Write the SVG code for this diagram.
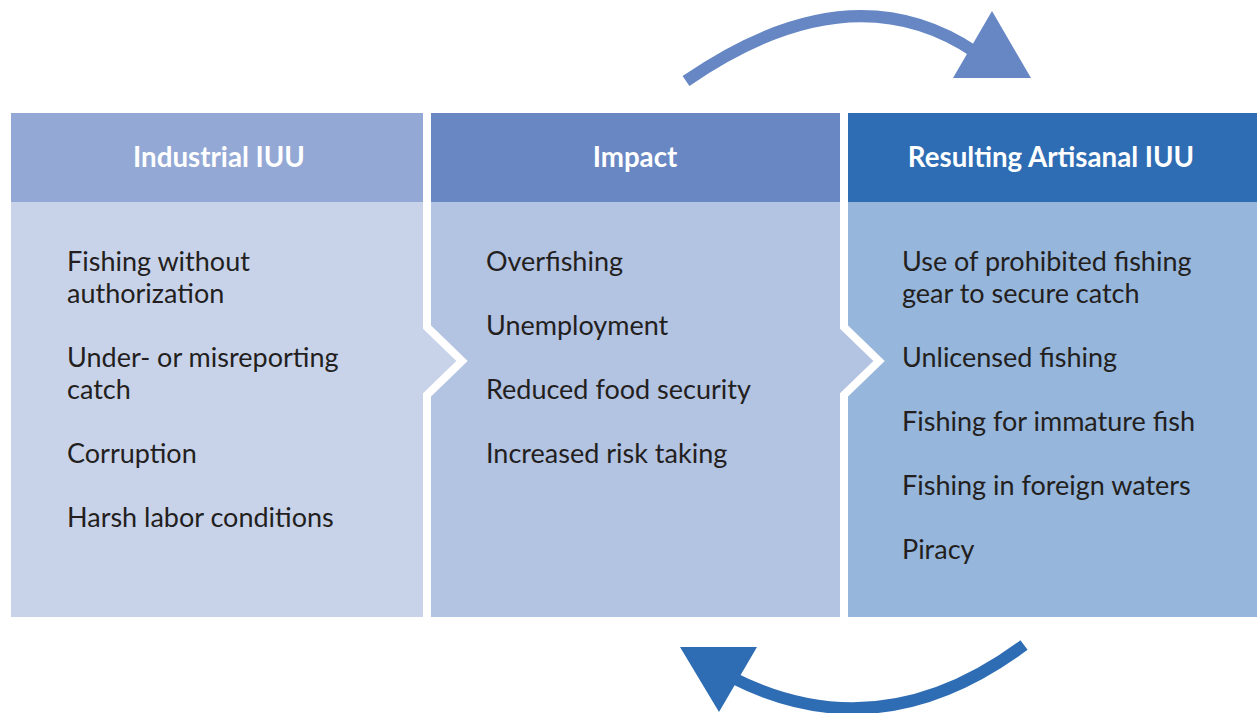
<svg xmlns="http://www.w3.org/2000/svg" width="1257" height="713" viewBox="0 0 1257 713">
<style>
.hd{font-family:Lato,"Liberation Sans",sans-serif;font-weight:700;font-size:27.7px;fill:#fff;text-anchor:middle}
.bd{font-family:Lato,"Liberation Sans",sans-serif;font-size:27px;fill:#231F20}
.sep{fill:none;stroke:#fff;stroke-width:8;stroke-linejoin:miter;stroke-miterlimit:10}
</style>
<rect width="1257" height="713" fill="#fff"/>
<g id="panel-industrial">
<rect x="11" y="113" width="420" height="89" fill="#93A8D4"/>
<polygon points="11,202 427,202 427,327 462,361 427,395 427,617 11,617" fill="#C8D3EA"/>
<text class="hd" x="219" y="167">Industrial IUU</text>
<text class="bd" x="67" y="271">Fishing without</text>
<text class="bd" x="67" y="303">authorization</text>
<text class="bd" x="67" y="367">Under- or misreporting</text>
<text class="bd" x="67" y="399">catch</text>
<text class="bd" x="67" y="463">Corruption</text>
<text class="bd" x="67" y="527">Harsh labor conditions</text>
</g>
<g id="panel-impact">
<rect x="431" y="113" width="409" height="89" fill="#6887C3"/>
<polygon points="427,202 844,202 844,327 879,361 844,395 844,617 427,617 427,395 462,361 427,327" fill="#B3C3E2"/>
<text class="hd" x="635" y="167">Impact</text>
<text class="bd" x="486" y="271">Overfishing</text>
<text class="bd" x="486" y="335">Unemployment</text>
<text class="bd" x="486" y="399">Reduced food security</text>
<text class="bd" x="486" y="463">Increased risk taking</text>
</g>
<g id="panel-artisanal">
<rect x="848" y="113" width="409" height="89" fill="#2E6DB4"/>
<polygon points="844,202 1257,202 1257,617 844,617 844,395 879,361 844,327" fill="#96B6DB"/>
<text class="hd" x="1051" y="167">Resulting Artisanal IUU</text>
<text class="bd" x="902" y="271">Use of prohibited fishing</text>
<text class="bd" x="902" y="303">gear to secure catch</text>
<text class="bd" x="902" y="367">Unlicensed fishing</text>
<text class="bd" x="902" y="431">Fishing for immature fish</text>
<text class="bd" x="902" y="495">Fishing in foreign waters</text>
<text class="bd" x="902" y="559">Piracy</text>
</g>
<g id="separators">
<polyline class="sep" points="427,113 427,327 462,361 427,395 427,617"/>
<polyline class="sep" points="844,113 844,327 879,361 844,395 844,617"/>
</g>
<g id="connectors">
<path d="M686,81 Q850,-32 975,52" fill="none" stroke="#6687C4" stroke-width="12"/>
<polygon points="992,11 953,78 1031,78" fill="#6687C4"/>
<path d="M1024,645 Q880,752 733,678" fill="none" stroke="#2E6DB4" stroke-width="12"/>
<polygon points="680,647 757,647 719,712" fill="#2E6DB4"/>
</g>
</svg>
